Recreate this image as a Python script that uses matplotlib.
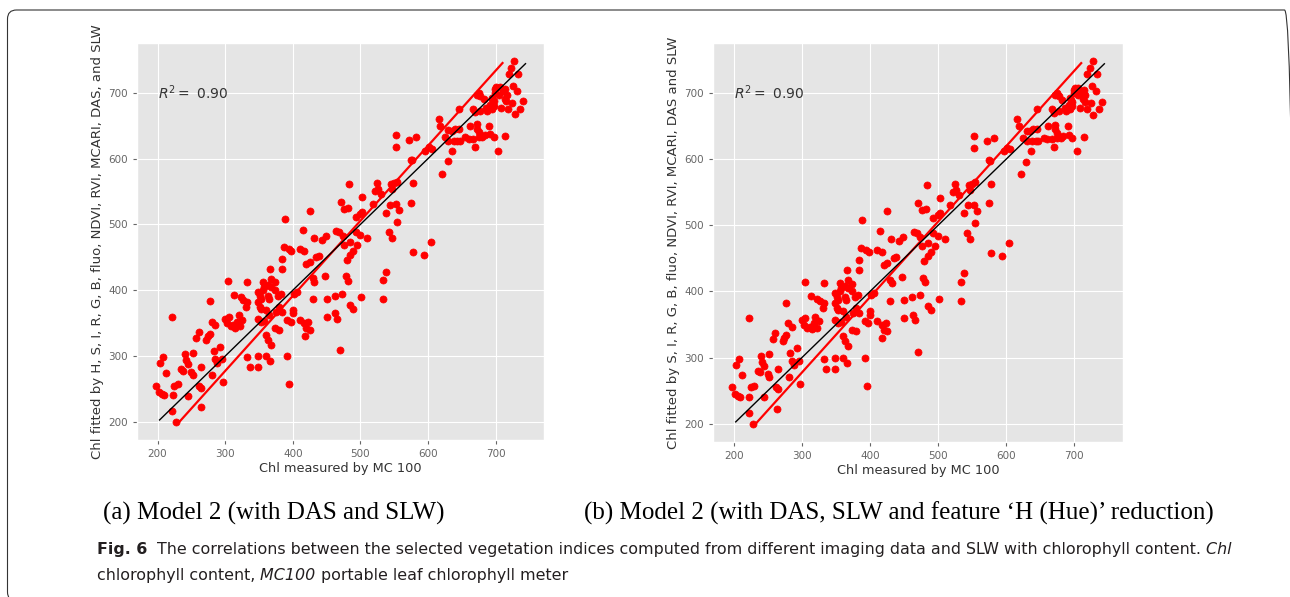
import matplotlib
matplotlib.use("Agg")
import matplotlib.pyplot as plt
from matplotlib import font_manager
from matplotlib.patches import FancyBboxPatch
from matplotlib.transforms import IdentityTransform

chl_measured = [
    197, 203, 208, 202, 206, 210, 212, 222, 223, 225, 230, 222, 228, 235, 238, 240, 242, 245, 245, 250,
    252, 252, 257, 261, 262, 265, 264, 265, 272, 274, 277, 277, 280, 285, 283, 285, 281, 288, 293, 296,
    297, 300, 303, 305, 308, 304, 313, 318, 312, 315, 320, 322, 325, 327, 323, 332, 332, 331, 333, 336,
    348, 348, 351, 353, 356, 348, 351, 353, 348, 353, 358, 348, 356, 358, 363, 368, 363, 365, 360, 365,
    360, 363, 368, 360, 367, 367, 368, 373, 373, 378, 383, 375, 380, 384, 374, 379, 384, 387, 394, 398,
    384, 392, 395, 392, 397, 400, 402, 406, 400, 411, 417, 420, 423, 425, 418, 410, 417, 420, 425, 430,
    432, 430, 435, 438, 447, 450, 450, 462, 463, 466, 470,
    473, 478, 481, 480, 485, 489, 489, 485, 476, 495, 501, 534, 534, 538, 578, 594, 604,
    389, 415, 425, 443, 431, 449, 464, 469, 474, 471, 476, 482, 483, 485, 493, 493, 500, 500, 503, 503,
    510, 518, 522, 525, 526, 530, 538, 542, 544, 545, 547, 547, 550, 552, 554, 554, 557, 553, 553,
    727, 723, 719, 733, 714, 710, 706, 701, 699, 716, 713, 726, 731, 741, 736, 724, 718, 728, 694, 697,
    692, 689, 694, 687, 697, 675, 677, 672, 682, 677, 670, 667, 645, 616, 618, 630, 635, 640, 645, 625,
    630, 638, 643, 647, 662, 672, 672, 675, 655, 660, 667, 675, 680, 684, 692, 697, 670, 704, 714, 636,
    629, 621, 606, 601, 596, 576, 574, 578, 575, 572, 582, 686, 690, 695, 699, 705, 708, 715,
]
chl_fitted = [
    255, 289, 298, 245, 242, 241, 274, 360, 241, 255, 257, 216, 200, 280, 278, 303, 294, 288, 240, 276,
    271, 305, 328, 337, 255, 252, 222, 283, 325, 330, 334, 383, 352, 347, 307, 295, 271, 289, 314, 295,
    260, 357, 350, 360, 345, 414, 393, 352, 347, 343, 362, 345, 355, 385, 389, 413, 382, 375, 298, 283,
    283, 397, 392, 387, 400, 382, 375, 372, 357, 352, 354, 300, 413, 405, 408, 405, 392, 387, 370, 362,
    332, 325, 317, 300, 292, 432, 417, 412, 400, 392, 395, 367, 375, 367, 342, 340, 432, 465, 463, 460,
    447, 300, 257, 355, 352, 365, 395, 397, 370, 355, 350, 342, 352, 340, 330, 463, 460, 440, 443, 418,
    413, 386, 450, 452, 422, 387, 360, 392, 365, 357, 309,
    394, 421, 414, 446, 378, 372, 459, 453, 468, 468, 389, 386, 415, 428, 458, 453, 473,
    508, 491, 521, 477, 480, 483, 490, 488, 483, 534, 523, 525, 561, 474, 488, 511, 484, 516, 519, 541,
    480, 531, 551, 563, 553, 546, 518, 488, 530, 561, 480, 554, 563, 531, 504, 565, 522, 635, 617,
    748, 738, 728, 728, 705, 702, 708, 708, 700, 697, 691, 710, 703, 687, 675, 685, 675, 667, 692, 687,
    682, 677, 675, 672, 680, 700, 695, 697, 690, 672, 670, 675, 675, 660, 650, 643, 642, 645, 645, 632,
    627, 627, 627, 627, 650, 652, 645, 640, 632, 630, 630, 632, 632, 635, 637, 632, 618, 612, 634, 612,
    596, 577, 615, 617, 612, 597, 598, 563, 533, 628, 632, 677, 650, 690, 705, 697, 677, 687,
]

# 1:1 line (black) and regression line (red), end points
one_to_one = [203, 744]
reg_x = [233, 710]
reg_y = [201, 745]

ticks = [200, 300, 400, 500, 600, 700]
r2_text = r"$R^2 = $ 0.90"
xlabel = "Chl measured by MC 100"
ylabels = [
    "Chl fitted by H, S, I, R, G, B, fluo, NDVI, RVI, MCARI, DAS, and SLW",
    "Chl fitted by S, I, R, G, B, fluo, NDVI, RVI, MCARI, DAS and SLW",
]
subcaptions = [
    "(a) Model 2 (with DAS and SLW)",
    "(b) Model 2 (with DAS, SLW and feature \u2018H (Hue)\u2019 reduction)",
]

W, H = 1290, 597
plt.style.use("ggplot")
fig = plt.figure(figsize=(W / 100, H / 100), dpi=100)

# axes boxes in pixels: left, top, right, bottom
boxes = [(137, 43, 544, 440), (713, 43, 1123, 442)]
for (l, t, r, b), ylab in zip(boxes, ylabels):
    ax = fig.add_axes([l / W, 1 - b / H, (r - l) / W, (b - t) / H])
    ax.scatter(chl_measured, chl_fitted, s=26, color="red", zorder=3)
    ax.plot(reg_x, reg_y, color="red", lw=1.6, zorder=4)
    ax.plot(one_to_one, one_to_one, color="black", lw=1.0, zorder=5)
    ax.set_xticks(ticks)
    ax.set_yticks(ticks)
    ax.tick_params(labelsize=7.5, colors="#666666", length=3)
    ax.set_xlabel(xlabel, fontsize=9.3, color="#333333", labelpad=2)
    ax.set_ylabel(ylab, fontsize=9.5, color="#333333", labelpad=3)
    ax.text(200, 700, r2_text, fontsize=10, va="center", color="#333333")

# sub captions
for cx, txt in zip([274, 899], subcaptions):
    fig.text(cx / W, 1 - 520 / H, txt, ha="center", va="baseline",
             family="Liberation Serif", fontsize=18, color="black")

# figure caption, written piece by piece
names = {f.name for f in font_manager.fontManager.ttflist}
cap_font = "Liberation Sans Narrow" if "Liberation Sans Narrow" in names else "DejaVu Sans"
renderer = fig.canvas.get_renderer()


def write_runs(x, y, runs, size):
    for s, weight, style in runs:
        t = fig.text(x / W, 1 - y / H, s, fontsize=size, family=cap_font,
                     weight=weight, style=style, ha="left", va="baseline", color="#231f20")
        x += t.get_window_extent(renderer).width


line1 = [
    ("Fig. 6", "bold", "normal"),
    ("  The correlations between the selected vegetation indices computed from different imaging data "
     "and SLW with chlorophyll content.", "normal", "normal"),
    (" Chl", "normal", "italic"),
]
line2 = [
    ("chlorophyll content,", "normal", "normal"),
    (" MC100", "normal", "italic"),
    (" portable leaf chlorophyll meter", "normal", "normal"),
]
write_runs(97, 554, line1, 11.4)
write_runs(97, 580, line2, 11.4)

# rounded frame around the figure
frame = FancyBboxPatch((7.5, -4), 1286, 591, boxstyle="round,pad=0,rounding_size=9",
                       transform=IdentityTransform(), fill=False, ec="#333333", lw=0.8)
fig.add_artist(frame)

fig.savefig("out.png", dpi=100)
